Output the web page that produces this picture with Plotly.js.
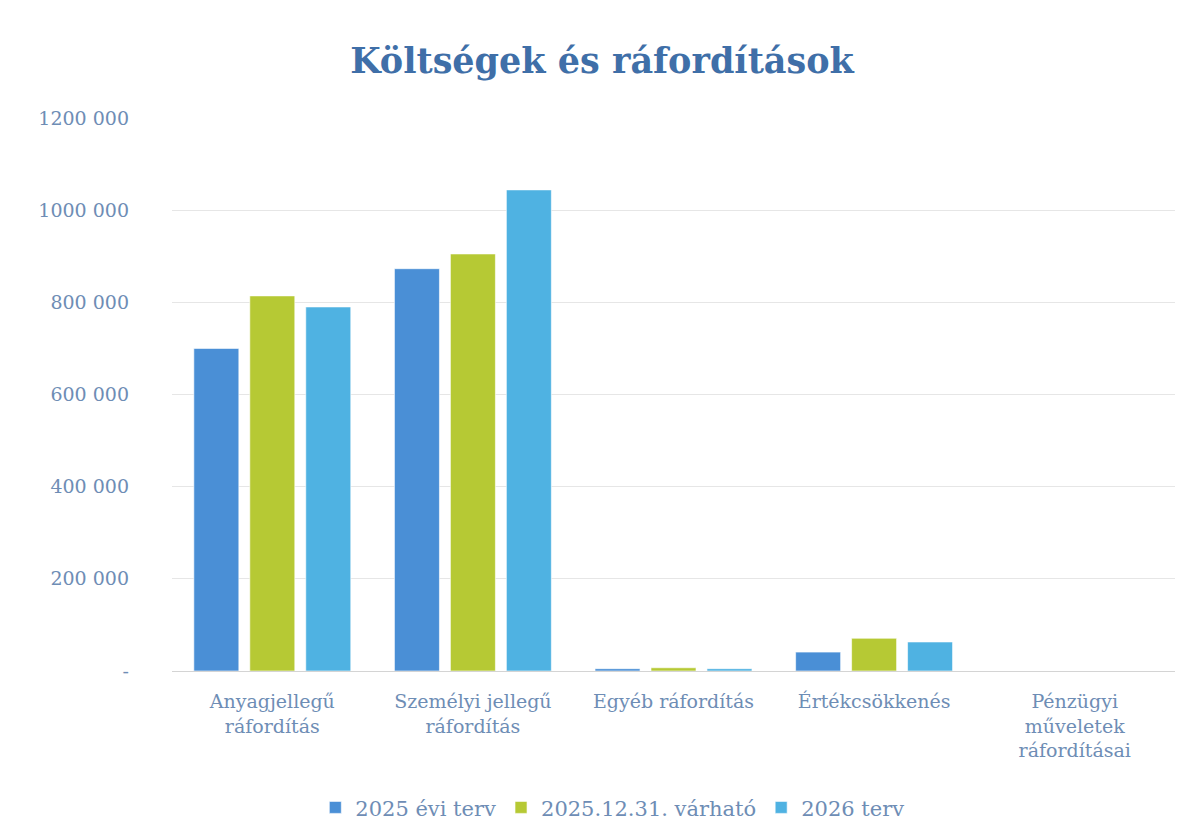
<!DOCTYPE html>
<html><head><meta charset="utf-8">
<script src="https://cdn.plot.ly/plotly-3.0.1.min.js"></script>
<style>html,body{margin:0;padding:0;background:#fff;}#chart{width:1204px;height:839px;}</style>
</head><body><div id="chart"></div>
<script>
const categories = ["Anyagjellegű<br>ráfordítás", "Személyi jellegű<br>ráfordítás", "Egyéb ráfordítás", "Értékcsökkenés", "Pénzügyi<br>műveletek<br>ráfordításai"];
const seriesNames = ["2025 évi terv", "2025.12.31. várható", "2026 terv"];
const plan2025 = [700000, 873000, 5000, 41000, 0];
const expected2025 = [814000, 905000, 7000, 71000, 0];
const plan2026 = [790000, 1044000, 5000, 63000, 0];
const tickValues = [0, 200000, 400000, 600000, 800000, 1000000, 1200000];
const tickLabels = ["-", "200 000", "400 000", "600 000", "800 000", "1000 000", "1200 000"];
const colors = ["#4a8fd6", "#b6c934", "#4fb2e2"];
const values = [plan2025, expected2025, plan2026];
const font = "DejaVu Serif, Liberation Serif, serif";
const traces = values.map((v, i) => ({
  type: "bar", x: categories, y: v, name: seriesNames[i],
  marker: {color: colors[i], line: {color: "rgba(255,255,255,0.6)", width: 1}},
  hoverinfo: "y+name"
}));
const layout = {
  width: 1204, height: 839,
  margin: {l: 172, r: 29, t: 118, b: 167},
  paper_bgcolor: "#fff", plot_bgcolor: "#fff",
  title: {text: "<b>Költségek és ráfordítások</b>", x: 0.5, xanchor: "center", y: 0.928, yanchor: "middle",
    font: {family: font, size: 35, color: "#3f6fa8"}},
  barmode: "group", bargap: 0.163, bargroupgap: 0.196,
  xaxis: {tickfont: {family: font, size: 19, color: "#6e8db5"}, showline: false, ticks: "", automargin: false,
    ticklabelstandoff: 17},
  yaxis: {range: [0, 1200000], tickvals: tickValues, ticktext: tickLabels,
    tickfont: {family: font, size: 19, color: "#6e8db5"},
    gridcolor: "#e6e6e6", gridwidth: 1, zeroline: true, zerolinecolor: "#d4d4d4", zerolinewidth: 1,
    ticks: "", ticklen: 0, automargin: false, ticklabelstandoff: 42},
  showlegend: true,
  legend: {orientation: "h", x: 0.439, xanchor: "center", y: -0.245, yanchor: "middle",
    font: {family: font, size: 21, color: "#6e8db5"}, itemwidth: 30, traceorder: "normal"}
};
Plotly.newPlot("chart", traces, layout, {displayModeBar: false, staticPlot: true});
</script></body></html>
